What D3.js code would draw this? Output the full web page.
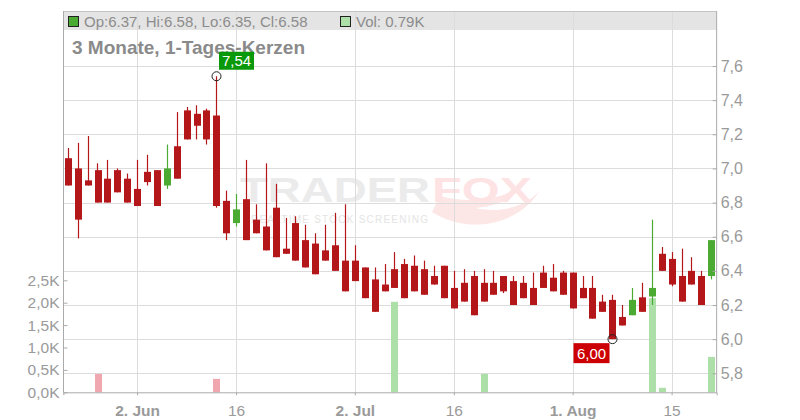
<!DOCTYPE html>
<html><head><meta charset="utf-8">
<script src="https://cdn.jsdelivr.net/npm/d3@7"></script>
<style>body{margin:0;background:#fff}svg{display:block;font-family:"Liberation Sans",Arial,sans-serif}</style>
</head><body><svg id="c" width="800" height="420"></svg>
<script>
const dates = ["2025-05-22","2025-05-23","2025-05-26","2025-05-27","2025-05-28","2025-05-29","2025-05-30",
"2025-06-02","2025-06-03","2025-06-04","2025-06-05","2025-06-06","2025-06-09","2025-06-10","2025-06-11","2025-06-12","2025-06-13",
"2025-06-16","2025-06-17","2025-06-18","2025-06-19","2025-06-20","2025-06-23","2025-06-24","2025-06-25","2025-06-26","2025-06-27",
"2025-06-30","2025-07-01","2025-07-02","2025-07-03","2025-07-04","2025-07-07","2025-07-08","2025-07-09","2025-07-10","2025-07-11",
"2025-07-14","2025-07-15","2025-07-16","2025-07-17","2025-07-18","2025-07-21","2025-07-22","2025-07-23","2025-07-24","2025-07-25",
"2025-07-28","2025-07-29","2025-07-30","2025-07-31","2025-08-01","2025-08-04","2025-08-05","2025-08-06","2025-08-07","2025-08-08",
"2025-08-11","2025-08-12","2025-08-13","2025-08-14","2025-08-15","2025-08-18","2025-08-19","2025-08-20","2025-08-21"];
const open  = [7.06,7.00,6.93,6.99,6.94,6.99,6.94,6.88,6.98,6.99,6.90,7.13,7.34,7.32,7.34,7.31,6.81,6.68,6.82,6.70,6.66,6.77,6.53,6.68,6.58,6.56,6.52,6.55,6.46,6.46,6.42,6.35,6.32,6.41,6.44,6.43,6.41,6.37,6.43,6.30,6.33,6.37,6.33,6.33,6.37,6.34,6.33,6.30,6.39,6.36,6.39,6.39,6.30,6.30,6.22,6.23,6.13,6.14,6.245,6.25,6.50,6.47,6.37,6.40,6.37,6.37];
const high  = [7.12,7.15,7.19,7.03,7.05,7.00,6.97,7.05,7.08,6.99,7.14,7.33,7.36,7.37,7.35,7.54,6.87,6.85,7.05,6.79,7.03,6.91,6.71,6.72,6.67,6.62,6.67,6.74,6.79,6.55,6.42,6.42,6.44,6.51,6.47,6.49,6.46,6.43,6.43,6.40,6.41,6.40,6.41,6.40,6.37,6.37,6.37,6.39,6.43,6.44,6.40,6.39,6.37,6.37,6.26,6.26,6.20,6.30,6.33,6.70,6.54,6.51,6.53,6.48,6.40,6.58];
const low   = [6.90,6.59,6.90,6.80,6.80,6.86,6.80,6.78,6.90,6.78,6.88,6.94,7.17,7.17,7.14,6.77,6.58,6.66,6.58,6.62,6.52,6.48,6.50,6.46,6.42,6.38,6.46,6.40,6.28,6.34,6.24,6.16,6.28,6.30,6.24,6.28,6.26,6.32,6.24,6.18,6.22,6.14,6.22,6.26,6.27,6.20,6.24,6.20,6.30,6.28,6.26,6.18,6.24,6.12,6.16,6.00,6.08,6.14,6.16,6.20,6.40,6.31,6.22,6.32,6.20,6.35];
const close = [6.90,6.70,6.90,6.80,6.80,6.86,6.80,6.78,6.92,6.78,7.00,6.94,7.17,7.25,7.17,6.78,6.62,6.76,6.58,6.62,6.52,6.48,6.50,6.46,6.42,6.38,6.46,6.40,6.28,6.34,6.24,6.16,6.28,6.30,6.24,6.28,6.26,6.32,6.24,6.18,6.22,6.14,6.22,6.26,6.28,6.20,6.24,6.20,6.30,6.28,6.26,6.18,6.24,6.12,6.16,6.00,6.08,6.23,6.16,6.30,6.40,6.32,6.22,6.32,6.20,6.58];
const volume = [0,0,0,410,0,0,0,0,0,0,0,0,0,0,0,300,0,0,0,0,0,0,0,0,0,0,0,0,0,0,0,0,0,2020,0,0,0,0,0,0,0,0,410,0,0,0,0,0,0,0,0,0,0,0,0,0,0,0,0,2100,100,0,0,0,0,790];
const priceTicks = [5.8,6.0,6.2,6.4,6.6,6.8,7.0,7.2,7.4,7.6];
const volTicks = [0,500,1000,1500,2000,2500];
const xTicks = [["2025-06-02","2. Jun",true],["2025-06-16","16",false],["2025-07-02","2. Jul",true],["2025-07-16","16",false],["2025-08-01","1. Aug",true],["2025-08-15","15",false]];
const headerText = "Op:6.37, Hi:6.58, Lo:6.35, Cl:6.58";
const volText = "Vol: 0.79K";
const title = "3 Monate, 1-Tages-Kerzen";

const L=63, R=716.65, T=11, B=392.3;
const svg = d3.select("#c");
const x = d3.scaleBand().domain(dates).range([L+0.35, R]).paddingInner(0.3).paddingOuter(0.15);
const y = d3.scaleLinear().domain([5.8,7.6]).range([373.3,66]);
const yv = d3.scaleLinear().domain([0,2500]).range([392.3,280.3]);
const cx = d => Math.floor(x(d) + x.bandwidth()/2) + 0.5;
const RED="#b4171a", GREEN="#4aaa32", VGREEN="#addfa9", VRED="#f0a7af", GRID="#dcdcdc", TXT="#9a9a9a";

// header band
svg.append("rect").attr("x",L).attr("y",T).attr("width",R-L).attr("height",19).attr("fill","#e4e4e4");

// watermark
const wm = svg.append("g");
wm.append("path").attr("d","M432,212 C470,236 520,224 540,190 C528,206 500,214 476,208 C500,206 516,196 522,186 C500,200 468,204 440,196 Z").attr("fill","#fde6e6");
wm.append("text").attr("x",240).attr("y",202).attr("font-size",35).attr("font-weight","bold").attr("fill","#ebebeb")
  .attr("textLength",190).attr("lengthAdjust","spacingAndGlyphs").text("TRADER");
wm.append("text").attr("x",432).attr("y",202).attr("font-size",35).attr("font-weight","bold").attr("fill","#fde3e3")
  .attr("textLength",100).attr("lengthAdjust","spacingAndGlyphs").text("FOX");
wm.append("text").attr("x",251).attr("y",222.5).attr("font-size",10).attr("fill","#e4e4e4")
  .attr("textLength",177).attr("lengthAdjust","spacing").text("REALTIME STOCK SCREENING");

// grid
svg.append("g").selectAll("line").data(priceTicks).join("line")
  .attr("x1",L).attr("x2",R).attr("y1",d=>Math.round(y(d))+0.5).attr("y2",d=>Math.round(y(d))+0.5)
  .attr("stroke",GRID);
svg.append("g").selectAll("line").data(xTicks).join("line")
  .attr("x1",d=>cx(d[0])).attr("x2",d=>cx(d[0])).attr("y1",T).attr("y2",B)
  .attr("stroke",GRID);

// frame
svg.append("line").attr("x1",L).attr("x2",R).attr("y1",T+0.5).attr("y2",T+0.5).attr("stroke","#c4c4c4");

// volume bars
const vdata = dates.map((d,i)=>({d,v:volume[i],up:i>0?close[i]>=close[i-1]:true})).filter(o=>o.v>0);
svg.append("g").selectAll("rect").data(vdata).join("rect")
  .attr("x",o=>Math.round(x(o.d))).attr("width",7)
  .attr("y",o=>yv(o.v)).attr("height",o=>B-yv(o.v))
  .attr("fill",o=>o.up?VGREEN:VRED);

// candles
const cdata = dates.map((d,i)=>({d,o:open[i],h:high[i],l:low[i],c:close[i]}));
const cg = svg.append("g");
cg.selectAll("line").data(cdata).join("line")
  .attr("x1",k=>cx(k.d)).attr("x2",k=>cx(k.d)).attr("y1",k=>y(k.h)).attr("y2",k=>y(k.l))
  .attr("stroke",k=>k.c>=k.o?GREEN:RED).attr("stroke-width",1.2);
cg.selectAll("rect").data(cdata).join("rect")
  .attr("x",k=>Math.round(x(k.d))).attr("width",7)
  .attr("y",k=>y(Math.max(k.o,k.c))).attr("height",k=>Math.max(1,Math.abs(y(k.o)-y(k.c))))
  .attr("fill",k=>k.c>=k.o?GREEN:RED);

// axes
const ax = svg.append("g").attr("transform",`translate(0,${B})`)
  .call(d3.axisBottom(x).tickValues(xTicks.map(t=>t[0])).tickSize(3).tickPadding(6).tickFormat(d=>xTicks.find(t=>t[0]===d)[1]));
ax.select(".domain").attr("stroke","#aaa");
ax.selectAll(".tick line").attr("stroke","#aaa");
ax.selectAll(".tick text").attr("font-size",15.5).attr("fill",TXT).attr("font-family","Liberation Sans, Arial")
  .attr("font-weight",d=>xTicks.find(t=>t[0]===d)[2]?"bold":"normal").attr("dy","0.95em");

const ar = svg.append("g").attr("transform",`translate(${R},0)`)
  .call(d3.axisLeft(y).tickValues(priceTicks).tickSize(4).tickFormat(d=>d3.format(".1f")(d).replace(".",",")));
ar.select(".domain").remove();
ar.selectAll(".tick text").attr("x",4).attr("text-anchor","start").attr("font-size",16).attr("fill",TXT).attr("font-family","Liberation Sans, Arial");
ar.selectAll(".tick line").attr("stroke","#aaa");
svg.append("line").attr("x1",R).attr("x2",R).attr("y1",T).attr("y2",B+0.5).attr("stroke","#aaa");

const al = svg.append("g").attr("transform",`translate(${L+0.5},0)`)
  .call(d3.axisRight(yv).tickValues(volTicks).tickSize(4).tickFormat(d=>d3.format(".1f")(d/1000).replace(".",",")+"K"));
al.select(".domain").remove();
al.selectAll(".tick text").attr("x",-4).attr("text-anchor","end").attr("font-size",15.5).attr("fill",TXT).attr("font-family","Liberation Sans, Arial");
al.selectAll(".tick line").attr("stroke","#aaa");
svg.append("line").attr("x1",L+0.5).attr("x2",L+0.5).attr("y1",T).attr("y2",B+0.5).attr("stroke","#aaa");

// header legend
svg.append("rect").attr("x",68.5).attr("y",16.5).attr("width",10).attr("height",10).attr("fill",GREEN).attr("stroke","#222");
svg.append("text").attr("x",84).attr("y",26.5).attr("font-size",15).attr("fill","#8c8c8c").text(headerText);
svg.append("rect").attr("x",340.5).attr("y",16.5).attr("width",10).attr("height",10).attr("fill",VGREEN).attr("stroke","#222");
svg.append("text").attr("x",356).attr("y",26.5).attr("font-size",15).attr("fill","#8c8c8c").text(volText);

svg.append("text").attr("x",72).attr("y",54).attr("font-size",19).attr("font-weight","bold").attr("fill","#8a8a8a").text(title);

// high / low markers
const hi = d3.maxIndex(high), lo = d3.minIndex(low);
const hx = cx(dates[hi]), hy = y(high[hi]);
svg.append("circle").attr("cx",hx).attr("cy",hy).attr("r",4.5).attr("fill","none").attr("stroke","#222");
svg.append("rect").attr("x",hx+2.5).attr("y",hy-24.5).attr("width",35).attr("height",18).attr("fill","#0a990a");
svg.append("text").attr("x",hx+20).attr("y",hy-10).attr("text-anchor","middle").attr("font-size",15).attr("fill","#fff").text(d3.format(".2f")(high[hi]).replace(".",","));
const lx = cx(dates[lo]), ly = y(low[lo]);
svg.append("circle").attr("cx",lx).attr("cy",ly).attr("r",4.5).attr("fill","none").attr("stroke","#222");
svg.append("rect").attr("x",lx-39).attr("y",ly+4).attr("width",36).attr("height",20).attr("fill","#cc0000");
svg.append("text").attr("x",lx-21).attr("y",ly+19.5).attr("text-anchor","middle").attr("font-size",15).attr("fill","#fff").text(d3.format(".2f")(low[lo]).replace(".",","));
</script></body></html>
